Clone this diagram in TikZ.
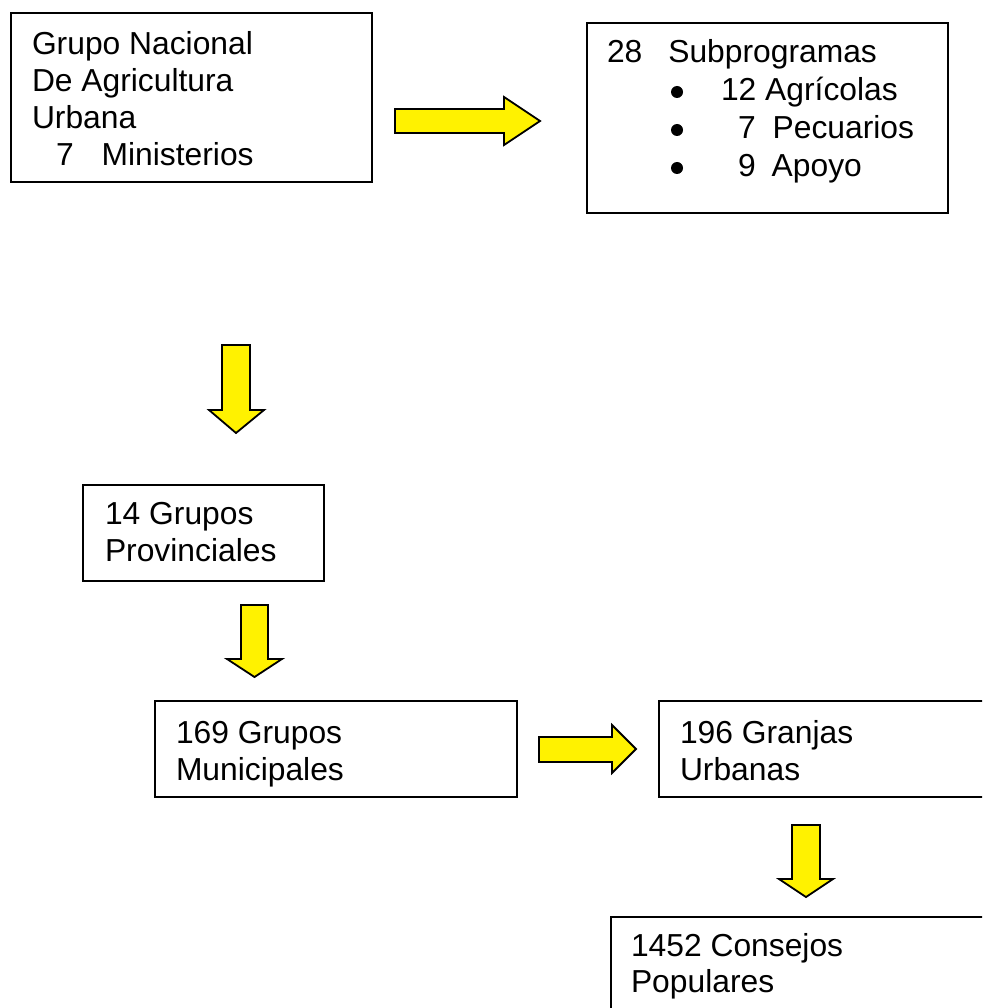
\documentclass[tikz,border=0pt]{standalone}
\usepackage{fontspec}
\setmainfont{Liberation Sans}
\begin{document}
\begin{tikzpicture}[x=1pt,y=-1pt,
  box/.style={draw=black,line width=1.8pt,anchor=north west,inner sep=0pt,outer sep=0pt},
  txt/.style={anchor=base west,inner sep=0pt,outer sep=0pt,font=\fontsize{31.8}{37}\selectfont},
  bul/.style={circle,fill=black,inner sep=0pt,outer sep=0pt,minimum size=12pt},
  blockarrow/.style={draw=black,line width=1.8pt,fill=yellow,line join=miter}]
\clip (0,0) rectangle (982,1008);
\fill[white] (0,0) rectangle (982,1008);
% boxes
\node[box,minimum width=361pt,minimum height=169pt] (b1) at (11,13) {};
\node[box,minimum width=361pt,minimum height=190pt] (b2) at (587,23) {};
\node[box,minimum width=241pt,minimum height=96pt] (b3) at (83,485) {};
\node[box,minimum width=362pt,minimum height=96pt] (b4) at (155,701) {};
\node[box,minimum width=400pt,minimum height=96pt] (b5) at (659,701) {};
\node[box,minimum width=400pt,minimum height=200pt] (b6) at (611,917) {};
% box 1 text
\node[txt] (t1a) at (32,54.5) {Grupo Nacional};
\node[txt] (t1b) at (32,91.5) {De Agricultura};
\node[txt] (t1c) at (32,128.5) {Urbana};
\node[txt] (t1d) at (56,165.5) {7\hspace{28pt}Ministerios};
% box 2 text
\node[txt] (t2a) at (607,63) {28\hspace{26pt}Subprogramas};
\node[bul] (u1) at (677,92) {};
\node[bul] (u2) at (677,130) {};
\node[bul] (u3) at (677,168) {};
\node[txt] (t2b) at (721,101) {12 Agrícolas};
\node[txt] (t2c) at (738,139) {7\hspace{17pt}Pecuarios};
\node[txt] (t2d) at (738,177) {9\hspace{16pt}Apoyo};
% box 3
\node[txt] (t3a) at (105,524) {14 Grupos};
\node[txt] (t3b) at (105,561) {Provinciales};
% box 4
\node[txt] (t4a) at (176,743) {169 Grupos};
\node[txt] (t4b) at (176,780) {Municipales};
% box 5
\node[txt] (t5a) at (680,743) {196 Granjas};
\node[txt] (t5b) at (680,780) {Urbanas};
% box 6
\node[txt] (t6a) at (631,956) {1452 Consejos};
\node[txt] (t6b) at (631,992) {Populares};
% arrows
\draw[blockarrow] (395,109) -- (504,109) -- (504,97) -- (540,121) -- (504,145) -- (504,133) -- (395,133) -- cycle;
\draw[blockarrow] (539,737) -- (612,737) -- (612,725) -- (636,749) -- (612,773) -- (612,762) -- (539,762) -- cycle;
\draw[blockarrow] (222,345) -- (250,345) -- (250,410) -- (264,410) -- (236,433) -- (209,410) -- (222,410) -- cycle;
\draw[blockarrow] (241,605) -- (268,605) -- (268,659) -- (282,659) -- (254.5,677) -- (227,659) -- (241,659) -- cycle;
\draw[blockarrow] (792,825) -- (820,825) -- (820,879) -- (833,879) -- (806,897) -- (779,879) -- (792,879) -- cycle;
\end{tikzpicture}
\end{document}
